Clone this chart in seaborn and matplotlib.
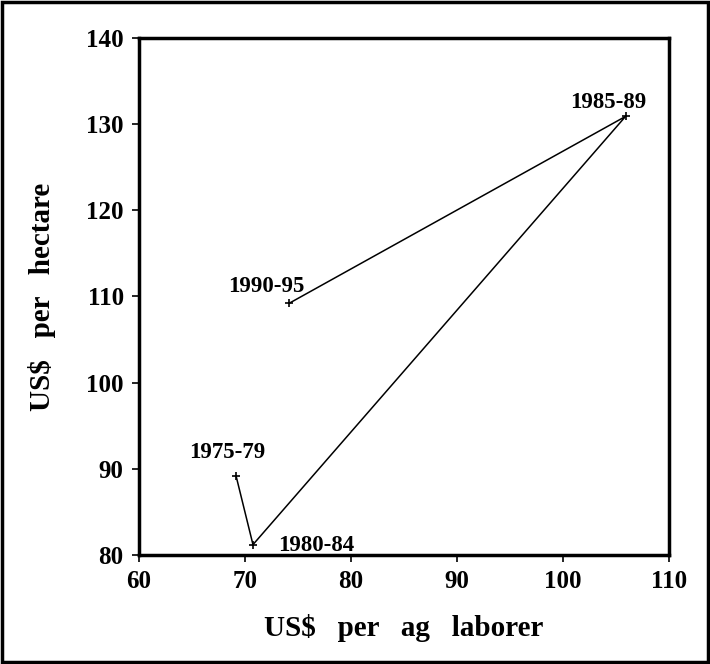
import matplotlib
matplotlib.use("Agg")
import matplotlib.pyplot as plt
import seaborn as sns
import pandas as pd
from matplotlib.patches import Rectangle

periods = ["1975-79", "1980-84", "1985-89", "1990-95"]
per_laborer = [69.15, 70.75, 105.9, 74.15]
per_hectare = [89.2, 81.2, 130.9, 109.2]
x_ticks = [60, 70, 80, 90, 100, 110]
y_ticks = [80, 90, 100, 110, 120, 130, 140]

df = pd.DataFrame({"period": periods, "x": per_laborer, "y": per_hectare})

sns.set_style("white")
plt.rcParams['font.family'] = ['Liberation Serif', 'DejaVu Serif']
plt.rcParams['text.color'] = 'black'
plt.rcParams['axes.labelcolor'] = 'black'
plt.rcParams['xtick.color'] = 'black'
plt.rcParams['ytick.color'] = 'black'

fig = plt.figure(figsize=(7.1, 6.64), dpi=100)
ax = fig.add_axes([0.1958, 0.1642, 0.9423 - 0.1958, 0.9428 - 0.1642])

sns.lineplot(data=df, x="x", y="y", sort=False, ax=ax, color="black",
             linewidth=1.1, marker="+", markersize=6, markeredgewidth=1.2,
             markeredgecolor="black", estimator=None)

offsets = {"1975-79": (-47, 18), "1980-84": (25, -6), "1985-89": (-55, 8), "1990-95": (-61, 11)}
for p, xv, yv in zip(periods, per_laborer, per_hectare):
    dx, dy = offsets[p]
    ax.annotate(p, (xv, yv), xytext=(dx, dy), textcoords="offset pixels",
                fontsize=16.5, fontweight="bold", ha="left", va="baseline", color="black")

ax.set_xlim(60, 110)
ax.set_ylim(80, 140)
ax.set_xticks(x_ticks)
ax.set_yticks(y_ticks)
ax.set_xticklabels([str(t) for t in x_ticks], fontsize=18, fontweight="bold")
ax.set_yticklabels([str(t) for t in y_ticks], fontsize=18, fontweight="bold")
ax.tick_params(axis="both", direction="out", length=5, width=1.2, color="black",
               bottom=True, left=True, pad=6, labelcolor="black")
for s in ax.spines.values():
    s.set_visible(True)
    s.set_color("black")
    s.set_linewidth(2.5)

ax.set_xlabel("US$   per   ag   laborer", fontsize=21, fontweight="bold", labelpad=15, color="black")
ax.set_ylabel("US$   per   hectare", fontsize=21, fontweight="bold", labelpad=22, color="black")

fig.patches.append(Rectangle((0.003, 0.003), 0.994, 0.994, transform=fig.transFigure,
                             fill=False, edgecolor="black", linewidth=2.5))

fig.savefig("out.png", dpi=100)
